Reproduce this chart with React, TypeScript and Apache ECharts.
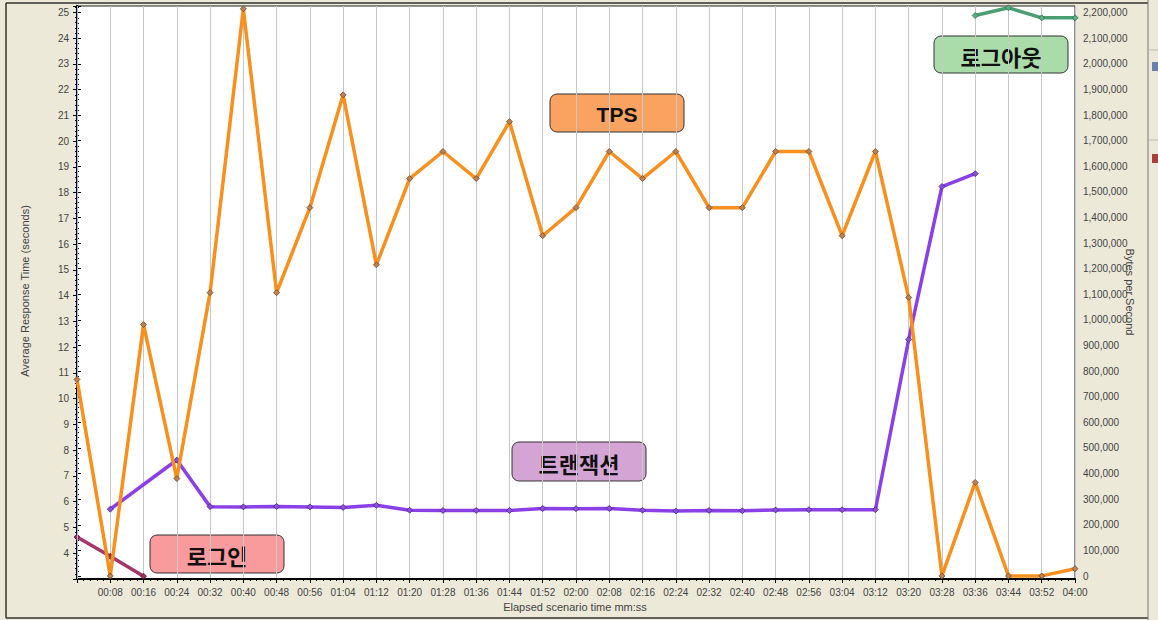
import React, { useEffect, useRef } from 'react';
import * as echarts from 'echarts';

const times = [
  '00:00', '00:08', '00:16', '00:24', '00:32', '00:40', '00:48', '00:56',
  '01:04', '01:12', '01:20', '01:28', '01:36', '01:44', '01:52', '02:00',
  '02:08', '02:16', '02:24', '02:32', '02:40', '02:48', '02:56', '03:04',
  '03:12', '03:20', '03:28', '03:36', '03:44', '03:52', '04:00',
];

const tpsValues = [
  10.75, 3.12, 12.88, 6.9, 14.12, 25.14, 14.12, 17.42, 21.8, 15.2, 18.55,
  19.6, 18.55, 20.76, 16.33, 17.42, 19.6, 18.55, 19.6, 17.42, 17.42, 19.6,
  19.6, 16.33, 19.6, 13.93, 3.12, 6.75, 3.12, 3.12, 3.4,
];

const transactionValues = [
  null, 5.71, null, 7.62, 5.81, 5.8, 5.82, 5.8, 5.78, 5.86, 5.67, 5.66,
  5.66, 5.66, 5.74, 5.73, 5.74, 5.67, 5.64, 5.66, 5.65, 5.68, 5.69, 5.69,
  5.69, 12.3, 18.24, 18.74, null, null, null,
];

const loginValues = [
  4.63, 3.88, 3.11, null, null, null, null, null, null, null, null, null,
  null, null, null, null, null, null, null, null, null, null, null, null,
  null, null, null, null, null, null, null,
];

const logoutValues = [
  null, null, null, null, null, null, null, null, null, null, null, null,
  null, null, null, null, null, null, null, null, null, null, null, null,
  null, null, null, 24.88, 25.18, 24.79, 24.79,
];

const leftAxisTitle = 'Average Response Time (seconds)';
const rightAxisTitle = 'Bytes per Second';
const xAxisTitle = 'Elapsed scenario time mm:ss';

const seriesLabels = ['TPS', '트랜잭션', '로그인', '로그아웃'];

export default function App() {
  const ref = useRef<HTMLDivElement>(null);

  useEffect(() => {
    if (!ref.current) return;
    const chart = echarts.init(ref.current, undefined, { renderer: 'svg' });
    const axisFont = '"Liberation Sans", Arial, sans-serif';
    const koFont = '"Noto Sans CJK KR", sans-serif';

    const lineSeries = (name: string, data: any[], lineColor: string, dotColor: string, dotBorder: string, z: number) => ({
      name,
      type: 'line',
      xAxisIndex: 0,
      yAxisIndex: 0,
      data,
      connectNulls: true,
      symbol: 'diamond',
      symbolSize: 6,
      showAllSymbol: true,
      z,
      lineStyle: { color: lineColor, width: 3.5 },
      itemStyle: { color: dotColor, borderColor: dotBorder, borderWidth: 0.8 },
    });

    const labelBox = (x: number, y: number, w: number, h: number, fill: string, text: string, font: string) => ({
      type: 'group',
      x,
      y,
      z: 100,
      children: [
        {
          type: 'rect',
          shape: { x: 0, y: 0, width: w, height: h, r: 7 },
          style: { fill, stroke: '#333', lineWidth: 1 },
        },
        {
          type: 'text',
          x: w / 2,
          y: h / 2 + 1,
          style: {
            text,
            fill: '#111',
            font,
            align: 'center',
            verticalAlign: 'middle',
          },
        },
      ],
    });

    const option: any = {
      animation: false,
      backgroundColor: '#ECE9D8',
      grid: [
        {
          left: 77, right: 83, top: 6, bottom: 41,
          show: true, backgroundColor: '#fff', borderColor: '#222', borderWidth: 1,
        },
        { left: 77, right: 83, top: 6, bottom: 44, show: false },
      ],
      xAxis: [
        {
          type: 'category',
          gridIndex: 0,
          data: times,
          boundaryGap: false,
          axisLine: { lineStyle: { color: '#000', width: 2 } },
          axisTick: { show: false },
          axisLabel: {
            color: '#444',
            fontSize: 10,
            fontFamily: axisFont,
            margin: 8,
            interval: 0,
            formatter: (v: string, i: number) => (i === 0 ? '' : v),
          },
          splitLine: { show: true, lineStyle: { color: '#C8C8C8', width: 1 } },
        },
        {
          type: 'value',
          gridIndex: 0,
          min: 0,
          max: 30,
          interval: 1,
          position: 'bottom',
          axisLine: { show: false },
          axisLabel: { show: false },
          splitLine: { show: false },
          axisTick: { show: true, length: 4, lineStyle: { color: '#000' } },
          minorTick: { show: true, splitNumber: 5, length: 2, lineStyle: { color: '#000' } },
        },
        { type: 'value', gridIndex: 1, show: false, min: 0, max: 30 },
      ],
      yAxis: [
        {
          type: 'value',
          gridIndex: 0,
          position: 'left',
          min: 3,
          max: 25.25,
          interval: 1,
          axisLine: { show: true, lineStyle: { color: '#000', width: 2 } },
          axisTick: { show: true, length: 4, lineStyle: { color: '#000' } },
          minorTick: { show: true, splitNumber: 5, length: 2, lineStyle: { color: '#000' } },
          splitLine: { show: false },
          axisLabel: {
            color: '#444',
            fontSize: 10,
            fontFamily: axisFont,
            margin: 8,
            formatter: (v: number) => (Number.isInteger(v) && v >= 4 ? String(v) : ''),
          },
        },
        {
          type: 'value',
          gridIndex: 1,
          position: 'right',
          min: 0,
          max: 2226000,
          interval: 100000,
          axisLine: { show: true, lineStyle: { color: '#000', width: 2 } },
          axisTick: { show: true, length: 4, lineStyle: { color: '#000' } },
          minorTick: { show: true, splitNumber: 5, length: 2, lineStyle: { color: '#000' } },
          splitLine: { show: false },
          axisLabel: {
            color: '#444',
            fontSize: 10,
            fontFamily: axisFont,
            margin: 8,
            formatter: (v: number) =>
              v % 100000 === 0 ? v.toLocaleString('en-US') : '',
          },
        },
      ],
      series: [
        lineSeries(seriesLabels[2], loginValues, '#A4366A', '#9A3060', '#5A1A38', 3),
        lineSeries(seriesLabels[1], transactionValues, '#8B3FE6', '#8A50D8', '#4A2680', 4),
        lineSeries(seriesLabels[3], logoutValues, '#4C9E73', '#5BAF85', '#2F6B4C', 4),
        {
          ...lineSeries(seriesLabels[0], tpsValues, '#F7901E', '#C08050', '#6B4A30', 5),
          markLine: {
            silent: true,
            symbol: ['none', 'none'],
            label: { show: false },
            lineStyle: { color: '#9DB8E0', type: 'solid', width: 1 },
            data: [{ xAxis: times[0] }],
          },
        },
      ],
      graphic: [
        { type: 'line', shape: { x1: 6, y1: 3, x2: 6, y2: 618 }, style: { stroke: '#333', lineWidth: 1.5 } },
        { type: 'line', shape: { x1: 6, y1: 3, x2: 1148, y2: 3 }, style: { stroke: '#333', lineWidth: 1.5 } },
        { type: 'line', shape: { x1: 6, y1: 618, x2: 1148, y2: 618 }, style: { stroke: '#333', lineWidth: 1.5 } },
        { type: 'line', shape: { x1: 1148, y1: 0, x2: 1148, y2: 620 }, style: { stroke: '#777', lineWidth: 1 } },
        { type: 'line', shape: { x1: 1149, y1: 50, x2: 1158, y2: 50 }, style: { stroke: '#BBB', lineWidth: 1 } },
        { type: 'line', shape: { x1: 1149, y1: 140, x2: 1158, y2: 140 }, style: { stroke: '#BBB', lineWidth: 1 } },
        { type: 'rect', shape: { x: 1152, y: 62, width: 6, height: 9 }, style: { fill: '#6D7FA8' } },
        { type: 'rect', shape: { x: 1152, y: 154, width: 6, height: 9 }, style: { fill: '#A84040' } },
        {
          type: 'text', x: 25, y: 291, rotation: Math.PI / 2,
          style: { text: leftAxisTitle, fill: '#444', font: `11px ${axisFont}`, align: 'center', verticalAlign: 'middle' },
        },
        {
          type: 'text', x: 1130, y: 292, rotation: -Math.PI / 2,
          style: { text: rightAxisTitle, fill: '#444', font: `11px ${axisFont}`, align: 'center', verticalAlign: 'middle' },
        },
        {
          type: 'text', x: 575, y: 607,
          style: { text: xAxisTitle, fill: '#444', font: `11px ${axisFont}`, align: 'center', verticalAlign: 'middle' },
        },
        labelBox(550, 94, 134, 38, '#FAA361', seriesLabels[0], `bold 21px ${axisFont}`),
        labelBox(512, 442, 134, 39, '#D4A5D4', seriesLabels[1], `bold 22px ${koFont}`),
        labelBox(150, 535, 134, 38, '#F99A9C', seriesLabels[2], `bold 22px ${koFont}`),
        labelBox(934, 36, 134, 37, '#A9DCA9', seriesLabels[3], `bold 22px ${koFont}`),
      ],
    };

    chart.setOption(option);
    return () => chart.dispose();
  }, []);

  return (
    <div
      ref={ref}
      style={{ position: 'absolute', left: 0, top: 0, width: 1158, height: 620 }}
    />
  );
}
